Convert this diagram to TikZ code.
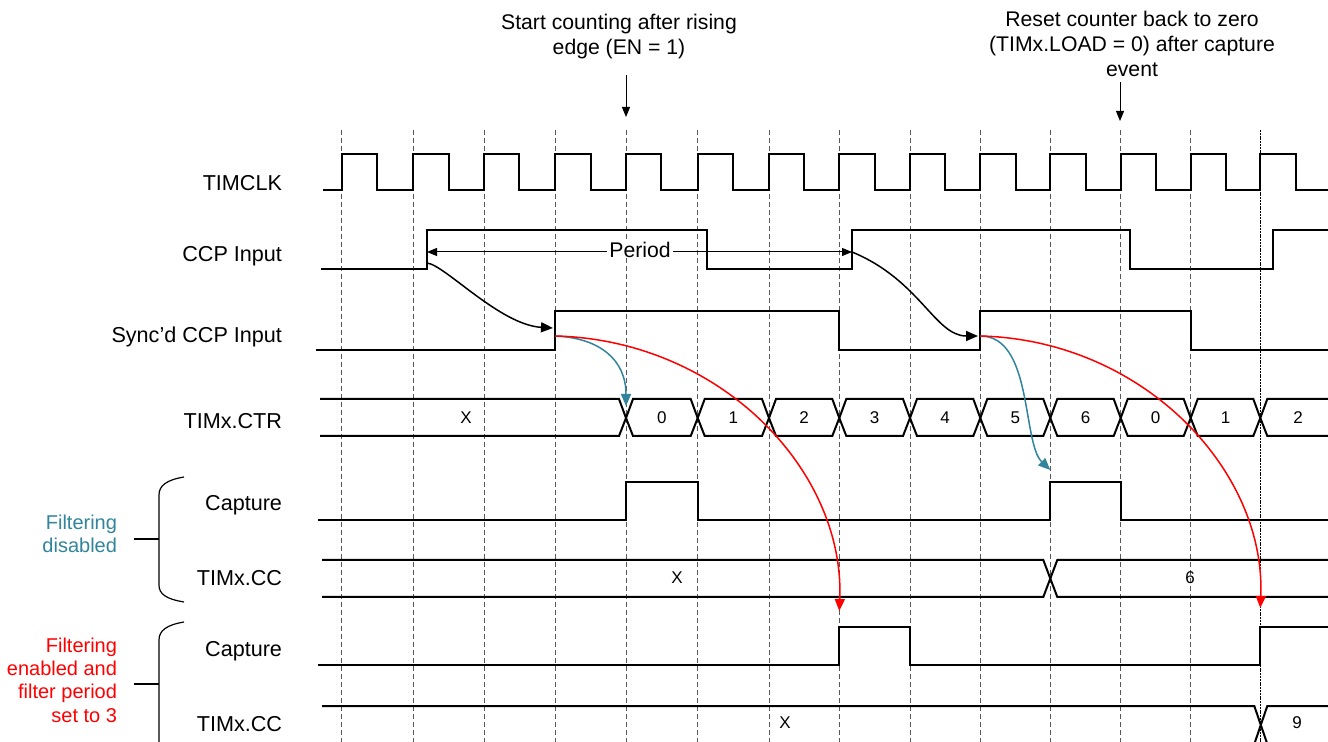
\documentclass[tikz,border=0pt]{standalone}
\usepackage{fontspec}
\setmainfont{Liberation Sans}
\usetikzlibrary{arrows.meta}
\definecolor{filtteal}{HTML}{31849B}
\definecolor{gridgray}{gray}{0.35}

\begin{document}
\begin{tikzpicture}[x=0.5pt,y=-0.5pt,
    line width=1pt, line cap=butt, line join=miter,
    every node/.style={inner sep=0pt,outer sep=0pt},
    sig/.style={font=\fontsize{10.8}{12}\selectfont,anchor=east},
    val/.style={font=\fontsize{8.5}{10}\selectfont},
    note/.style={font=\fontsize{10.6}{12.5}\selectfont,align=center},
    grp/.style={font=\fontsize{10}{11.7}\selectfont,align=right,anchor=east},
    gridline/.style={line width=0.5pt,gridgray,dash pattern=on 2.5pt off 1.5pt},
    thinarrow/.style={line width=0.5pt,-{Triangle[length=5pt,width=4pt]}},
    tiparrow/.style={line width=0.75pt,-{Triangle[length=6pt,width=5pt]}},
    brace/.style={line width=0.6pt}]
  \useasboundingbox (0,0) rectangle (1328,742);
  % ---- 网格（TIMCLK 上升沿）----
  \foreach \x in {341.7,413.3,484,555.3,626,697.7,769,839.3,910,980.3,1050.3,1120.7,1190.7}
    \draw[gridline] (\x,130) -- (\x,742);
  \draw[line width=0.5pt,dash pattern=on 1pt off 0.4pt] (1260.3,130) -- (1260.3,742);
  % ---- 顶部说明 ----
  \node[note] (startnote) at (619,37) {Start counting after rising\\edge (EN = 1)};
  \node[note] (resetnote) at (1132,44) {Reset counter back to zero\\(TIMx.LOAD = 0) after capture\\event};
  \coordinate (startfrom) at (626,75);
  \coordinate (startto)   at (626,117);
  \coordinate (resetfrom) at (1120,82);
  \coordinate (resetto)   at (1120,121);
  \draw[thinarrow] (startfrom) -- (startto);
  \draw[thinarrow] (resetfrom) -- (resetto);
  % ---- 信号名 ----
  \node[sig] (lclk)  at (282,183) {TIMCLK};
  \node[sig] (lccp)  at (282,256) {CCP Input};
  \node[sig] (lsync) at (282,337) {Sync’d CCP Input};
  \node[sig] (lctr)  at (282,421) {TIMx.CTR};
  \node[sig] (lcap1) at (282,505) {Capture};
  \node[sig] (lcc1)  at (282,578) {TIMx.CC};
  \node[sig] (lcap2) at (282,651) {Capture};
  \node[sig] (lcc2)  at (282,724) {TIMx.CC};
  % ---- 分组括号 ----
  \node[grp,filtteal] (gdis) at (117,534) {Filtering\\disabled};
  \node[grp,red] (gen) at (117,680) {Filtering\\enabled and\\filter period\\set to 3};
  \draw[brace] (184,477) .. controls (166,480) and (159,486) .. (159,495) -- (159,585)
               .. controls (159,594) and (166,599) .. (184,602);
  \draw[brace] (134,539) -- (159,539);
  \draw[brace] (184,622) .. controls (166,625) and (159,631) .. (159,640) -- (159,745);
  \draw[brace] (134,684) -- (159,684);
  % ---- TIMCLK ----
  \draw (323,190) foreach \x in {341.7,413.3,484,555.3,626,697.7,769,839.3,910,980.3,1050.3,1120.7,1190.7,1260.3}
        { -- (\x,190) -- (\x,154) -- ({\x+35.3},154) -- ({\x+35.3},190) } -- (1328,190);
  % ---- CCP Input ----
  \draw (321,269) -- (427,269) -- (427,230) -- (707,230) -- (707,269) -- (852,269) -- (852,230)
        -- (1130,230) -- (1130,269) -- (1273,269) -- (1273,230) -- (1328,230);
  \coordinate (ccprise1) at (427,252);
  \coordinate (ccprise2) at (852,252);
  \draw[line width=0.5pt,{Triangle[length=5pt,width=4pt]}-{Triangle[length=5pt,width=4pt]}] (ccprise1) -- (ccprise2);
  \node[font=\fontsize{10.6}{12}\selectfont,fill=white,inner xsep=1pt] (period) at (640,250) {Period};
  % ---- Sync'd CCP Input ----
  \draw (316,350) -- (555.3,350) -- (555.3,311) -- (839.3,311) -- (839.3,350) -- (980.3,350) -- (980.3,311)
        -- (1190.7,311) -- (1190.7,350) -- (1328,350);
  \coordinate (syncrise1) at (555.3,336);
  \coordinate (syncrise2) at (980.3,336);
  % ---- TIMx.CTR ----
  \draw (320,399) -- (619,399) -- (626,418) -- (619,436) -- (320,436);
  \node[val] (ctrx) at (466,418) {X};
  \foreach \a/\b/\v [count=\k] in {626/697.7/0,697.7/769/1,769/839.3/2,839.3/910/3,910/980.3/4,
                                   980.3/1050.3/5,1050.3/1120.7/6,1120.7/1190.7/0,1190.7/1260.3/1}
  {
    \draw (\a,418) -- ({\a+7},399) -- ({\b-7},399) -- (\b,418) -- ({\b-7},436) -- ({\a+7},436) -- cycle;
    \node[val] (ctr\k) at ({(\a+\b)/2},418) {\v};
  }
  \draw (1328,399) -- (1267.3,399) -- (1260.3,418) -- (1267.3,436) -- (1328,436);
  \node[val] (ctrlast) at (1298,418) {2};
  % ---- 滤波关闭：Capture / TIMx.CC ----
  \draw (318,520) -- (626,520) -- (626,482) -- (697.7,482) -- (697.7,520) -- (1050.3,520) -- (1050.3,482)
        -- (1120.7,482) -- (1120.7,520) -- (1328,520);
  \draw (322,560) -- (1043.3,560) -- (1057.3,597) -- (1328,597);
  \draw (322,597) -- (1043.3,597) -- (1057.3,560) -- (1328,560);
  \node[val] (ccx1) at (677,578) {X};
  \node[val] (cc61) at (1190,578) {6};
  % ---- 滤波开启：Capture / TIMx.CC ----
  \draw (318,665) -- (839.3,665) -- (839.3,627) -- (910,627) -- (910,665) -- (1260.3,665) -- (1260.3,627)
        -- (1328,627);
  \draw (322,706) -- (1254.3,706) -- (1267.3,744) -- (1328,744);
  \draw (322,744) -- (1254.3,744) -- (1267.3,706) -- (1328,706);
  \node[val] (ccx2) at (785,723) {X};
  \node[val] (cc92) at (1297,723) {9};
  % ---- 因果箭头 ----
  \coordinate (syncto1) at (553,328);
  \coordinate (syncto2) at (978,336);
  \coordinate (ctrto)   at (626,406);
  \coordinate (capto1)  at (1050.3,470);
  \coordinate (capto2)  at (839.3,611);
  \coordinate (capto3)  at (1260.3,608);
  \draw[tiparrow] (ccprise1) ++(0,11) .. controls (445,265) and (500,325) .. (syncto1);
  \draw[tiparrow] (ccprise2) .. controls (920,280) and (935,336) .. (syncto2);
  \draw[tiparrow,filtteal] (syncrise1) .. controls (600,338) and (626,360) .. (ctrto);
  \draw[tiparrow,filtteal] (syncrise2) .. controls (1033,336) and (1022,443) .. (capto1);
  \draw[tiparrow,red] (syncrise1) .. controls (720,340) and (845,470) .. (capto2);
  \draw[tiparrow,red] (syncrise2) .. controls (1143,340) and (1266,470) .. (capto3);
\end{tikzpicture}
\end{document}
